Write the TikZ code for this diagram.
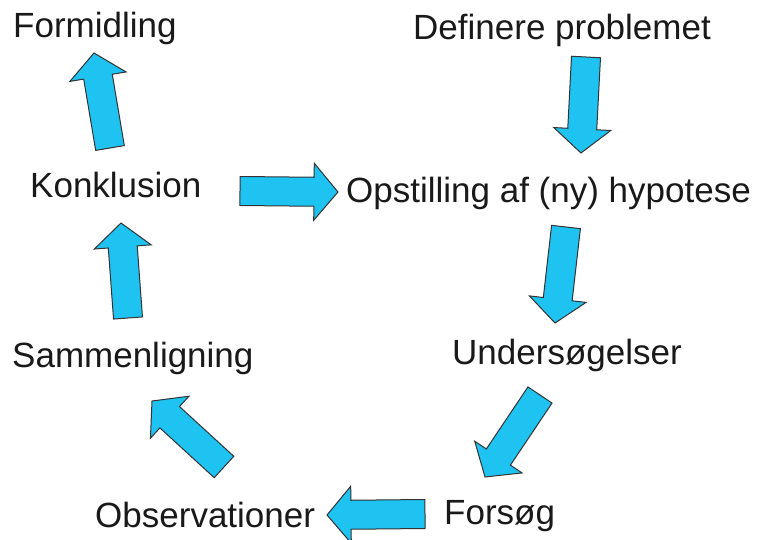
\documentclass[tikz,border=0pt]{standalone}
\usepackage{fontspec}
\setmainfont{Liberation Sans}
\usetikzlibrary{calc}
\definecolor{arrowblue}{RGB}{30,195,242}
\newcommand\blockarrow[2]{%
  \draw[blockarr] let \p1=($(#2)-(#1)$), \n1={atan2(\y1,\x1)}, \n2={veclen(\x1,\y1)} in
    ($(#1)+(\n1+90:14.5pt)$) -- ($(#1)+(\n1:\n2-24pt)+(\n1+90:14.5pt)$)
    -- ($(#1)+(\n1:\n2-24pt)+(\n1+90:28.5pt)$) -- (#2)
    -- ($(#1)+(\n1:\n2-24pt)+(\n1-90:28.5pt)$) -- ($(#1)+(\n1:\n2-24pt)+(\n1-90:14.5pt)$)
    -- ($(#1)+(\n1-90:14.5pt)$) -- cycle;}
\begin{document}
\begin{tikzpicture}[x=1pt, y=-1pt,
    step label/.style={anchor=base west, inner sep=0pt, font=\fontsize{35}{42}\selectfont, text=black!90},
    blockarr/.style={draw=black!80, fill=arrowblue, line width=1pt, line join=miter}]
  \useasboundingbox (0,0) rectangle (761,540);
  \node[step label] (formidling) at (13,38) {Formidling};
  \node[step label] (definere) at (413,40) {Definere problemet};
  \node[step label] (konklusion) at (30,198) {Konklusion};
  \node[step label] (opstilling) at (346,203) {Opstilling af (ny) hypotese};
  \node[step label] (sammenligning) at (12,367) {Sammenligning};
  \node[step label] (undersoeg) at (452,364) {Undersøgelser};
  \node[step label] (observationer) at (95,527) {Observationer};
  \node[step label] (forsoeg) at (444,524) {Forsøg};
  % arrow ends
  \coordinate (c1a) at (586,57);  \coordinate (c1b) at (581,153);
  \coordinate (c2a) at (566,227); \coordinate (c2b) at (555,323);
  \coordinate (c3a) at (540,395); \coordinate (c3b) at (485,477);
  \coordinate (c4a) at (425,514); \coordinate (c4b) at (327,515);
  \coordinate (c5a) at (224,467); \coordinate (c5b) at (152,401);
  \coordinate (c6a) at (128,318); \coordinate (c6b) at (121,223);
  \coordinate (c7a) at (110,148); \coordinate (c7b) at (94,53);
  \coordinate (c8a) at (240,191); \coordinate (c8b) at (338,192);
  \foreach \i in {1,...,8}{\blockarrow{c\i a}{c\i b}}
\end{tikzpicture}
\end{document}
